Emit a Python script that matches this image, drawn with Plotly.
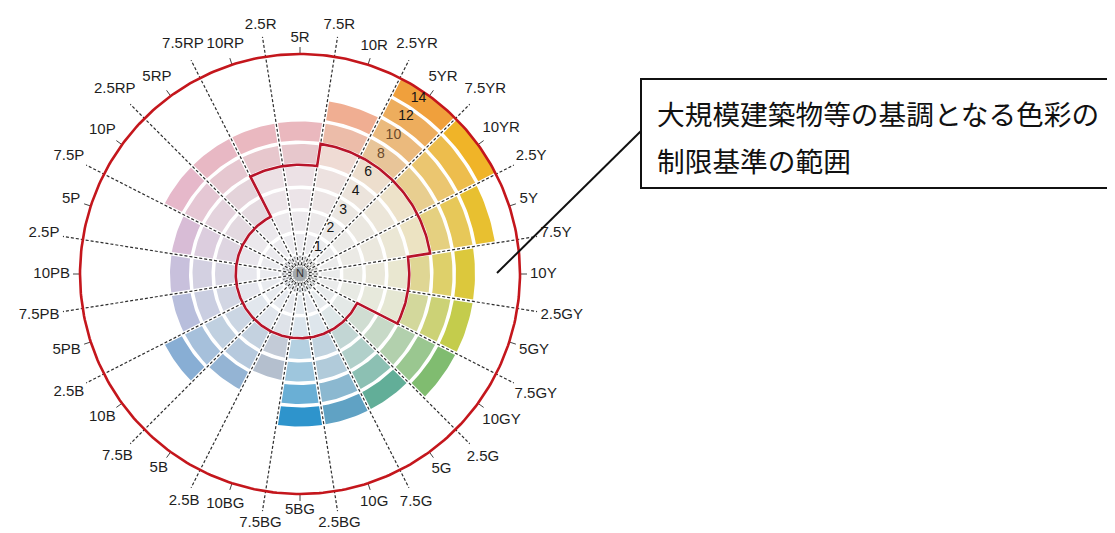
import numpy as np
import plotly.graph_objects as go

# ---------------- data ----------------
SECTORS = ["5R", "10R", "5YR", "10YR", "5Y", "10Y", "5GY", "10GY", "5G", "10G",
           "5BG", "10BG", "5B", "10B", "5PB", "10PB", "5P", "10P", "5RP", "10RP"]
MAX_CHROMA = [8, 10, 14, 14, 12, 10, 10, 10, 8, 8, 8, 4, 6, 8, 6, 6, 6, 8, 8, 8]
LIMIT_CHROMA = [4, 6, 6, 6, 6, 4, 4, 2, 2, 2, 2, 2, 2, 2, 2, 2, 2, 2, 2, 4]
CHROMA_STEPS = [1, 2, 3, 4, 6, 8, 10, 12, 14]
HUE_LABELS = ["5R", "7.5R", "10R", "2.5YR", "5YR", "7.5YR", "10YR", "2.5Y", "5Y", "7.5Y",
              "10Y", "2.5GY", "5GY", "7.5GY", "10GY", "2.5G", "5G", "7.5G", "10G", "2.5BG",
              "5BG", "7.5BG", "10BG", "2.5B", "5B", "7.5B", "10B", "2.5B", "5PB", "7.5PB",
              "10PB", "2.5P", "5P", "7.5P", "10P", "2.5RP", "5RP", "7.5RP", "10RP", "2.5R"]
CENTER_LABEL = "N"
NOTE_LINES = ["大規模建築物等の基調となる色彩の", "制限基準の範囲"]

# ---------------- styles ----------------
BASE_COLORS = ["#eab8be", "#f0ae92", "#f0a03c", "#f0b428", "#e8c030", "#dcc83c", "#c4cc4c",
               "#80bc70", "#62ae98", "#60a2c4", "#2e94cc", "#b4bfce", "#94b4d4", "#88aed4",
               "#b8bedc", "#c8c0dc", "#d8bcd6", "#e6b8ca", "#e8b8c4", "#eab8c0"]
NEUTRAL = (226, 228, 232)
OFF = 8                      # page body margin of the browser
W, H = 1115 - OFF, 533 - OFF
CX, CY = 300 - OFF, 274 - OFF
R_CIRCLE = 220
RING_START, RING_STEP, RING_W = 21.0, 22.5, 19.0
GAP = 1.8
RED = "#c4161c"
FONT = "Liberation Sans, Arial, sans-serif"


def hex2rgb(h):
    h = h.lstrip("#")
    return tuple(int(h[i:i + 2], 16) for i in (0, 2, 4))


def mix(a, b, t):
    return tuple(a[i] + (b[i] - a[i]) * t for i in range(3))


def rgb(c):
    return "rgb(%d,%d,%d)" % tuple(int(round(v)) for v in c)


def ring_in(k):
    return RING_START + RING_STEP * k


def sector_angle(j):
    return 90.0 - 18.0 * j


def cell_poly(theta_c, half, r0, r1, d):
    def off(r):
        return np.arcsin(min(d / r, 0.95))
    a0 = np.radians(theta_c - half)
    a1 = np.radians(theta_c + half)
    ao = np.linspace(a0 + off(r1), a1 - off(r1), 14)
    ai = np.linspace(a1 - off(r0), a0 + off(r0), 14)
    xs = list(r1 * np.cos(ao)) + list(r0 * np.cos(ai))
    ys = list(r1 * np.sin(ao)) + list(r0 * np.sin(ai))
    xs.append(xs[0]); ys.append(ys[0])
    return xs, ys


def px(xp, yp):
    """reference-pixel position -> data coordinates"""
    return xp - OFF - CX, CY - (yp - OFF)


fig = go.Figure()

# inner ring around N
for j in range(len(SECTORS)):
    xs, ys = cell_poly(sector_angle(j), 9, 9.5, 18.5, 1.0)
    col = mix(NEUTRAL, hex2rgb(BASE_COLORS[j]), 0.06)
    fig.add_trace(go.Scatter(x=xs, y=ys, fill="toself", fillcolor=rgb(mix(col, (205, 208, 212), 0.3)),
                             mode="lines", line=dict(width=0), hoverinfo="skip"))

# chroma cells
for j, name in enumerate(SECTORS):
    base = hex2rgb(BASE_COLORS[j])
    for k, c in enumerate(CHROMA_STEPS):
        if c > MAX_CHROMA[j]:
            break
        f = (c / MAX_CHROMA[j]) ** 1.4
        col = mix(NEUTRAL, base, f)
        if c <= LIMIT_CHROMA[j]:
            col = mix(col, (250, 250, 252), 0.35)
        xs, ys = cell_poly(sector_angle(j), 9, ring_in(k), ring_in(k) + RING_W, GAP)
        fig.add_trace(go.Scatter(x=xs, y=ys, fill="toself", fillcolor=rgb(col),
                                 mode="lines", line=dict(width=0), hoverinfo="skip"))

# dashed boundary lines (2.5 / 7.5 hues)
dx, dy = [], []
for i in range(1, len(HUE_LABELS), 2):
    a = np.radians(90 - 9 * i)
    dx += [9 * np.cos(a), 240 * np.cos(a), None]
    dy += [9 * np.sin(a), 240 * np.sin(a), None]
fig.add_trace(go.Scatter(x=dx, y=dy, mode="lines", hoverinfo="skip",
                         line=dict(color="#2e2e2e", width=1.2, dash="3px,2px")))

# inner spokes (5 / 10 hues)
sx, sy = [], []
for i in range(0, len(HUE_LABELS), 2):
    a = np.radians(90 - 9 * i)
    sx += [8 * np.cos(a), 20 * np.cos(a), None]
    sy += [8 * np.sin(a), 20 * np.sin(a), None]
fig.add_trace(go.Scatter(x=sx, y=sy, mode="lines", hoverinfo="skip",
                         line=dict(color="#6a6a6a", width=0.9, dash="2px,2px")))

# ticks for 5 / 10 hues
tx, ty = [], []
for i in range(0, len(HUE_LABELS), 2):
    a = np.radians(90 - 9 * i)
    tx += [R_CIRCLE * np.cos(a), 227 * np.cos(a), None]
    ty += [R_CIRCLE * np.sin(a), 227 * np.sin(a), None]
fig.add_trace(go.Scatter(x=tx, y=ty, mode="lines", hoverinfo="skip",
                         line=dict(color="#444444", width=1.0)))

# outer red circle
t = np.linspace(0, 2 * np.pi, 361)
fig.add_trace(go.Scatter(x=R_CIRCLE * np.cos(t), y=R_CIRCLE * np.sin(t), mode="lines",
                         hoverinfo="skip", line=dict(color=RED, width=2.6)))

# red limit outline
ox, oy = [], []
for j in range(len(SECTORS)):
    kL = CHROMA_STEPS.index(LIMIT_CHROMA[j])
    r = ring_in(kL) + RING_W + (RING_STEP - RING_W) / 2
    aa = np.radians(np.linspace(sector_angle(j) + 9, sector_angle(j) - 9, 16))
    ox += list(r * np.cos(aa))
    oy += list(r * np.sin(aa))
ox.append(ox[0]); oy.append(oy[0])
fig.add_trace(go.Scatter(x=ox, y=oy, mode="lines", hoverinfo="skip",
                         line=dict(color="#b8142a", width=2.6)))

# N centre
fig.add_trace(go.Scatter(x=7.5 * np.cos(t), y=7.5 * np.sin(t), fill="toself", fillcolor="#a4a9ad",
                         mode="lines", line=dict(width=0), hoverinfo="skip"))
fig.add_trace(go.Scatter(x=[0], y=[0], mode="text", text=[CENTER_LABEL], hoverinfo="skip",
                         textfont=dict(family=FONT, size=11, color="#333333")))

# hue labels
CW = {"0": 8.34, "1": 8.34, "2": 8.34, "3": 8.34, "4": 8.34, "5": 8.34, "6": 8.34, "7": 8.34,
      "8": 8.34, "9": 8.34, ".": 4.17, "R": 10.83, "Y": 10.0, "P": 10.0, "G": 11.67, "B": 10.0}
lx, ly = [], []
for i, lab in enumerate(HUE_LABELS):
    a = np.radians(90 - 9 * i)
    r_end = 240 if i % 2 == 1 else 227
    hw = sum(CW.get(ch, 9) for ch in lab) / 2
    hh = 6.0
    r = r_end + 3 + hw * abs(np.cos(a)) + hh * abs(np.sin(a))
    lx.append(r * np.cos(a))
    ly.append(r * np.sin(a))
fig.add_trace(go.Scatter(x=lx, y=ly, mode="text", text=HUE_LABELS, hoverinfo="skip",
                         textposition="middle center", cliponaxis=False,
                         textfont=dict(family=FONT, size=15, color="#1e1e1e")))

# chroma numbers
na = np.radians(56)
nx, ny, ncol = [], [], []
for k, c in enumerate(CHROMA_STEPS):
    r = ring_in(k) + RING_W / 2 + 1.5
    nx.append(r * np.cos(na))
    ny.append(r * np.sin(na))
    ncol.append("#6b4a2b" if c in (8, 10) else "#151515")
fig.add_trace(go.Scatter(x=nx, y=ny, mode="text", text=[str(c) for c in CHROMA_STEPS],
                         hoverinfo="skip",
                         textfont=dict(family=FONT, size=14, color=ncol)))

# leader line and note box
x0, y0 = px(497, 273)
x1, y1 = px(641, 131)
fig.add_trace(go.Scatter(x=[x0, x1], y=[y0, y1], mode="lines", hoverinfo="skip",
                         line=dict(color="#111111", width=2)))
bx0, by0 = px(641, 79)
bx1, by1 = px(1112, 188)
fig.add_shape(type="rect", x0=bx0, y0=by1, x1=bx1, y1=by0, line=dict(color="#111111", width=2),
              fillcolor="rgba(0,0,0,0)")
for line_text, yp in zip(NOTE_LINES, [113, 160]):
    ax, ay = px(655, yp)
    fig.add_annotation(x=ax, y=ay, text=line_text, showarrow=False, xanchor="left", yanchor="middle",
                       font=dict(family="Noto Sans CJK JP", size=27.7, color="#111111"))

fig.update_layout(
    width=W, height=H, margin=dict(l=0, r=0, t=0, b=0),
    paper_bgcolor="white", plot_bgcolor="white", showlegend=False,
    xaxis=dict(range=[-CX, W - CX], visible=False, fixedrange=True),
    yaxis=dict(range=[-(H - CY), CY], visible=False, fixedrange=True),
)

fig.write_html("out.html")
